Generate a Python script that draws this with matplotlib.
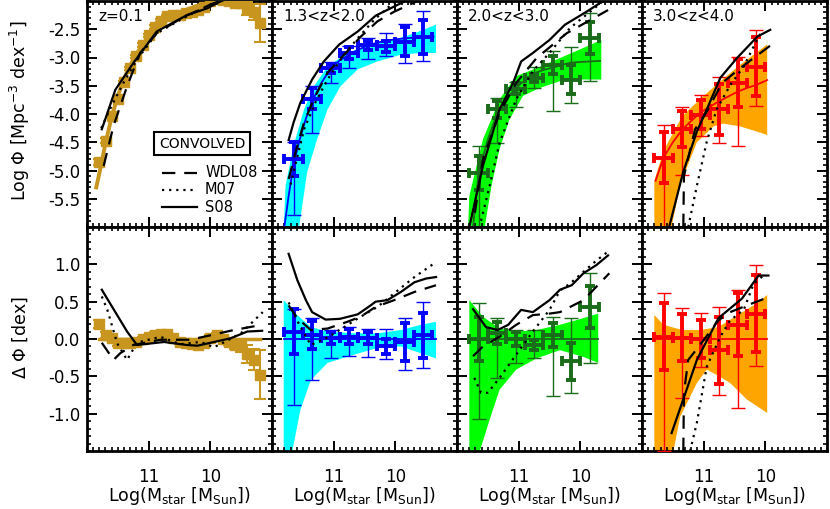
import numpy as np
import matplotlib
matplotlib.use("Agg")
import matplotlib.pyplot as plt
from matplotlib.ticker import FixedLocator, MultipleLocator, FormatStrFormatter

plt.rcParams['font.family'] = ['DejaVu Sans']
plt.rcParams['mathtext.fontset'] = 'dejavusans'

# ---------------- data ----------------
panel_labels = ["z=0.1", "1.3<z<2.0", "2.0<z<3.0", "3.0<z<4.0"]
model_names = ["WDL08", "M07", "S08"]

# Panel 1 (z=0.1)
p1_x = [11.8, 11.7, 11.6, 11.5, 11.4, 11.3, 11.2, 11.1, 11.0, 10.9, 10.8, 10.7, 10.6, 10.5,
        10.4, 10.3, 10.2, 10.1, 10.0, 9.9, 9.8, 9.7, 9.6, 9.5, 9.4, 9.3, 9.2]
p1_phi = [-4.85, -4.47, -4.03, -3.74, -3.44, -3.19, -2.98, -2.78, -2.61, -2.46, -2.35, -2.27, -2.25, -2.25,
          -2.22, -2.19, -2.16, -2.10, -2.00, -1.95, -1.98, -2.00, -2.03, -2.04, -2.13, -2.20, -2.39]
p1_dphi = [0.20, 0.05, 0.02, -0.06, -0.06, -0.05, -0.04, 0.00, 0.03, 0.06, 0.07, 0.07, 0.02, -0.04,
           -0.06, -0.07, -0.08, -0.05, 0.02, 0.05, 0.00, -0.04, -0.08, -0.10, -0.20, -0.28, -0.48]
p1_err = [0.05, 0.04, 0.03, 0.03, 0.03, 0.03, 0.03, 0.03, 0.03, 0.03, 0.03, 0.03, 0.03, 0.03,
          0.03, 0.03, 0.03, 0.03, 0.03, 0.03, 0.03, 0.04, 0.06, 0.08, 0.12, 0.14, 0.33]
p1_fit_x = [11.85, 11.8, 11.7, 11.6, 11.5, 11.4, 11.3, 11.2, 11.1, 11.0, 10.9, 10.8, 10.7, 10.6,
            10.4, 10.2, 10.0, 9.8, 9.6, 9.4, 9.2]
p1_fit_y = [-5.30, -5.05, -4.52, -4.05, -3.68, -3.38, -3.14, -2.94, -2.78, -2.64, -2.52, -2.42, -2.34, -2.27,
            -2.16, -2.08, -2.02, -1.98, -1.95, -1.93, -1.91]
p1_wdl_x = [11.73, 11.57, 11.35, 11.14, 10.87, 10.43, 9.95, 9.7]
p1_wdl_y = [-4.92, -4.21, -3.51, -2.92, -2.57, -2.28, -2.04, -1.95]
p1_m07_x = [11.77, 11.63, 11.41, 11.19, 10.87, 10.43, 9.89, 9.6]
p1_m07_y = [-4.25, -3.92, -3.45, -3.04, -2.57, -2.30, -2.00, -1.90]
p1_s08_x = [11.76, 11.54, 11.25, 10.87, 10.38, 10.05, 9.84, 9.6]
p1_s08_y = [-4.27, -3.57, -3.10, -2.54, -2.25, -2.13, -2.01, -1.90]
p1_dwdl_x = [11.76, 11.57, 11.46, 11.25, 10.81, 10.33, 10.05, 9.62, 9.16]
p1_dwdl_y = [-0.05, -0.28, -0.19, -0.08, -0.01, -0.01, 0.04, 0.12, 0.19]
p1_dm07_x = [11.76, 11.67, 11.51, 11.35, 11.19, 10.81, 10.49, 10.16, 9.94, 9.72, 9.50, 9.15]
p1_dm07_y = [0.57, 0.39, -0.06, -0.28, -0.05, 0.03, -0.07, -0.04, -0.11, -0.02, 0.08, 0.36]
p1_ds08_x = [11.76, 11.35, 11.19, 10.75, 10.38, 10.21, 9.67, 9.40, 9.16]
p1_ds08_y = [0.66, 0.10, -0.08, -0.04, -0.08, -0.09, 0.01, 0.10, 0.11]

# Panel 2 (1.3<z<2.0)
p2_x = [11.65, 11.35, 11.05, 10.75, 10.45, 10.15, 9.85, 9.55]
p2_phi = [-4.79, -3.73, -3.19, -2.92, -2.78, -2.80, -2.72, -2.63]
p2_dphi = [0.10, 0.05, 0.01, 0.03, 0.01, -0.10, -0.04, 0.05]
p2_err = [0.30, 0.19, 0.08, 0.10, 0.08, 0.10, 0.26, 0.30]
p2_lo = [0.99, 0.60, 0.27, 0.26, 0.25, 0.17, 0.37, 0.44]
p2_hi = [0.30, 0.23, 0.11, 0.13, 0.13, 0.24, 0.32, 0.45]
p2_fit_x = [11.80, 11.73, 11.65, 11.55, 11.45, 11.35, 11.2, 11.05, 10.9, 10.75, 10.6, 10.45,
            10.3, 10.15, 10.0, 9.85, 9.7, 9.55, 9.38]
p2_fit_y = [-6.0, -5.45, -4.89, -4.45, -4.08, -3.78, -3.45, -3.20, -3.05, -2.95, -2.86, -2.79,
            -2.74, -2.70, -2.68, -2.66, -2.65, -2.64, -2.63]
p2_band_up_x = [11.81, 11.78, 11.65, 11.48, 11.32, 11.10, 10.78, 10.40, 10.02, 9.69, 9.34]
p2_band_up_y = [-6.0, -5.27, -4.56, -3.92, -3.51, -3.16, -2.92, -2.77, -2.69, -2.57, -2.42]
p2_band_lo_x = [11.56, 11.43, 11.27, 11.10, 10.89, 10.61, 10.29, 9.91, 9.59, 9.34]
p2_band_lo_y = [-6.0, -5.03, -4.45, -3.92, -3.51, -3.21, -3.07, -2.95, -2.92, -2.92]
p2_wdl_x = [11.73, 11.59, 11.48, 11.32, 11.10, 10.83, 10.56, 10.29, 10.02, 9.64]
p2_wdl_y = [-5.15, -4.56, -4.15, -3.73, -3.27, -2.95, -2.63, -2.36, -2.19, -2.0]
p2_m07_x = [11.70, 11.48, 11.29, 11.10, 10.86, 10.61, 10.34, 10.02]
p2_m07_y = [-5.25, -4.27, -3.78, -3.39, -2.99, -2.66, -2.33, -2.02]
p2_s08_x = [11.73, 11.65, 11.54, 11.35, 11.16, 10.91, 10.61, 10.32, 9.80]
p2_s08_y = [-4.46, -4.15, -3.80, -3.39, -3.07, -2.77, -2.54, -2.26, -1.98]
p2_dband_up_x = [11.81, 11.59, 11.37, 11.10, 10.67, 10.29, 9.91, 9.59, 9.34]
p2_dband_up_y = [0.52, 0.32, 0.16, 0.10, 0.076, 0.076, 0.12, 0.19, 0.23]
p2_dband_lo_x = [11.81, 11.67, 11.54, 11.37, 11.10, 10.67, 10.29, 9.91, 9.59, 9.34]
p2_dband_lo_y = [-1.5, -1.5, -0.95, -0.55, -0.32, -0.21, -0.12, -0.10, -0.19, -0.26]
p2_dwdl_x = [11.73, 11.59, 11.37, 11.10, 10.78, 10.56, 10.32, 10.02, 9.69, 9.34]
p2_dwdl_y = [0.45, 0.28, 0.12, 0.14, 0.23, 0.30, 0.43, 0.52, 0.63, 0.72]
p2_dm07_x = [11.73, 11.54, 11.37, 11.10, 10.83, 10.56, 10.29, 10.02, 9.69, 9.34]
p2_dm07_y = [0.49, 0.16, -0.08, 0.02, 0.16, 0.30, 0.43, 0.61, 0.83, 1.03]
p2_ds08_x = [11.73, 11.59, 11.45, 11.35, 11.13, 10.9, 10.61, 10.40, 10.32, 10.13, 9.91, 9.69, 9.50, 9.34]
p2_ds08_y = [1.14, 0.79, 0.52, 0.36, 0.26, 0.27, 0.33, 0.45, 0.50, 0.52, 0.63, 0.76, 0.81, 0.83]

# Panel 3 (2.0<z<3.0)
p3_x = [11.65, 11.35, 11.05, 10.75, 10.45, 10.15, 9.85]
p3_phi = [-5.05, -3.92, -3.55, -3.36, -3.13, -3.39, -2.66]
p3_dphi = [0.00, 0.08, 0.00, -0.08, 0.05, -0.30, 0.43]
p3_err = [0.30, 0.15, 0.10, 0.07, 0.16, 0.25, 0.28]
p3_lo = [1.07, 0.60, 0.32, 0.18, 0.82, 0.42, 0.75]
p3_hi = [0.48, 0.20, 0.12, 0.20, 0.25, 0.58, 0.45]
p3_fit_x = [11.74, 11.65, 11.50, 11.35, 11.20, 11.05, 10.90, 10.75, 10.60, 10.45, 10.30, 10.15, 10.0, 9.85, 9.68]
p3_fit_y = [-6.0, -5.05, -4.45, -4.00, -3.73, -3.55, -3.40, -3.28, -3.22, -3.18, -3.13, -3.09, -3.08, -3.07, -3.06]
p3_band_up_x = [11.82, 11.80, 11.58, 11.31, 11.04, 10.71, 10.33, 9.95, 9.66]
p3_band_up_y = [-6.0, -5.45, -4.45, -3.74, -3.33, -3.19, -3.01, -2.83, -2.69]
p3_band_lo_x = [11.55, 11.44, 11.31, 11.15, 10.93, 10.66, 10.33, 9.95, 9.66]
p3_band_lo_y = [-6.0, -5.27, -4.62, -4.10, -3.68, -3.54, -3.42, -3.39, -3.39]
p3_wdl_x = [11.71, 11.58, 11.31, 11.04, 10.71, 10.22, 9.55]
p3_wdl_y = [-5.75, -4.80, -3.98, -3.45, -3.01, -2.57, -2.16]
p3_m07_x = [11.61, 11.47, 11.31, 11.04, 10.77, 10.50, 10.17, 9.74, 9.63]
p3_m07_y = [-5.89, -5.27, -4.51, -3.74, -3.24, -2.92, -2.48, -2.10, -2.0]
p3_s08_x = [11.80, 11.58, 11.31, 11.09, 10.96, 10.77, 10.50, 10.25, 9.90, 9.63]
p3_s08_y = [-6.0, -4.92, -3.92, -3.45, -3.07, -2.92, -2.69, -2.42, -2.19, -2.0]
p3_dband_up_x = [11.80, 11.58, 11.31, 11.04, 10.71, 10.33, 9.95, 9.71]
p3_dband_up_y = [0.52, 0.30, 0.14, 0.10, 0.12, 0.19, 0.28, 0.34]
p3_dband_lo_x = [11.80, 11.63, 11.47, 11.31, 11.04, 10.71, 10.33, 9.95, 9.71]
p3_dband_lo_y = [-1.5, -1.5, -1.08, -0.68, -0.41, -0.26, -0.15, -0.24, -0.32]
p3_dwdl_x = [11.74, 11.58, 11.31, 11.04, 10.77, 10.50, 10.33, 9.95, 9.74, 9.53]
p3_dwdl_y = [-0.23, -0.10, 0.03, 0.19, 0.32, 0.34, 0.36, 0.52, 0.70, 0.88]
p3_dm07_x = [11.72, 11.61, 11.50, 11.31, 11.04, 10.77, 10.50, 10.33, 10.17, 9.95, 9.74, 9.52]
p3_dm07_y = [-0.52, -0.72, -0.72, -0.52, -0.21, 0.10, 0.39, 0.65, 0.74, 0.90, 1.05, 1.19]
p3_ds08_x = [11.74, 11.53, 11.34, 11.17, 10.96, 10.77, 10.50, 10.33, 10.14, 9.95, 9.74, 9.55]
p3_ds08_y = [0.40, 0.16, 0.12, 0.19, 0.39, 0.36, 0.52, 0.66, 0.72, 0.88, 0.99, 1.12]

# Panel 4 (3.0<z<4.0)
p4_x = [11.65, 11.35, 11.05, 10.75, 10.45, 10.15]
p4_phi = [-4.77, -4.27, -4.01, -3.92, -3.45, -3.16]
p4_dphi = [0.03, 0.02, 0.00, -0.15, 0.19, 0.34]
p4_err = [0.45, 0.32, 0.25, 0.45, 0.42, 0.52]
p4_lo = [1.53, 0.81, 0.38, 0.60, 1.11, 0.70]
p4_hi = [0.58, 0.40, 0.35, 0.58, 0.46, 0.65]
p4_fit_x = [11.78, 11.65, 11.50, 11.35, 11.20, 11.06, 10.90, 10.76, 10.60, 10.46, 10.30, 10.16, 9.97]
p4_fit_y = [-5.18, -4.77, -4.50, -4.28, -4.12, -3.98, -3.87, -3.78, -3.69, -3.61, -3.54, -3.49, -3.40]
p4_band_up_x = [11.80, 11.65, 11.35, 11.06, 10.76, 10.41, 9.97]
p4_band_up_y = [-5.18, -4.65, -4.04, -3.74, -3.45, -3.13, -2.77]
p4_band_lo_x = [11.80, 11.52, 11.38, 11.11, 10.84, 10.68, 10.41, 10.14, 9.97]
p4_band_lo_y = [-6.0, -6.0, -5.25, -4.50, -4.22, -4.17, -4.22, -4.31, -4.37]
p4_wdl_x = [11.33, 11.32, 11.14, 10.95, 10.70, 10.41, 10.19, 9.92]
p4_wdl_y = [-6.0, -5.10, -4.27, -3.96, -3.45, -3.19, -3.01, -2.79]
p4_m07_x = [11.25, 11.11, 10.95, 10.79, 10.57, 10.35, 10.16, 10.05]
p4_m07_y = [-6.0, -5.27, -4.49, -3.92, -3.49, -3.16, -2.74, -2.52]
p4_s08_x = [11.56, 11.33, 11.11, 10.95, 10.73, 10.46, 10.13, 9.92]
p4_s08_y = [-6.0, -5.02, -4.31, -3.92, -3.36, -3.01, -2.63, -2.51]
p4_dband_up_x = [11.80, 11.65, 11.35, 11.06, 10.76, 10.41, 10.13, 9.97]
p4_dband_up_y = [0.32, 0.19, 0.12, 0.12, 0.16, 0.34, 0.48, 0.59]
p4_dband_lo_x = [11.80, 11.49, 11.38, 11.11, 10.95, 10.79, 10.57, 10.30, 9.97]
p4_dband_lo_y = [-1.5, -1.5, -1.04, -0.59, -0.41, -0.48, -0.59, -0.81, -0.99]
p4_dwdl_x = [11.33, 11.32, 11.25, 11.06, 10.76, 10.57, 10.30, 9.95]
p4_dwdl_y = [-1.5, -0.72, -0.28, -0.08, 0.25, 0.36, 0.45, 0.56]
p4_dm07_x = [11.22, 11.11, 10.95, 10.73, 10.57, 10.35, 10.19, 10.03]
p4_dm07_y = [-1.5, -1.12, -0.37, 0.03, 0.25, 0.39, 0.74, 0.85]
p4_ds08_x = [11.52, 11.11, 10.76, 10.38, 10.11, 9.95]
p4_ds08_y = [-1.26, -0.28, 0.28, 0.54, 0.85, 0.85]

bin_half = 0.15
data_colors = ['#C8961E', '#0000FF', '#1A6B1A', '#FF0000']
band_colors = [None, '#00FFFF', '#00FF00', '#FFA500']

# ---------------- figure ----------------
W, H = 830, 509
fig = plt.figure(figsize=(W / 100, H / 100), dpi=100)

lefts = [87, 272, 457, 642]
pw = 185
top_row = (1, 227)
bot_row = (227, 451)

dash = (0, (6, 4))
dot = (0, (1, 2.2))
mstyle = [dash, dot, '-']


def make_ax(px, row):
    y0, y1 = row
    return fig.add_axes([px / W, 1 - y1 / H, pw / W, (y1 - y0) / H])


def style_ax(ax, ylim, yticks, show_y, show_x):
    ax.set_xlim(12, 9)
    ax.set_ylim(*ylim)
    ax.xaxis.set_major_locator(FixedLocator([11, 10]))
    ax.xaxis.set_minor_locator(MultipleLocator(0.1))
    ax.yaxis.set_major_locator(FixedLocator(yticks))
    ax.yaxis.set_minor_locator(MultipleLocator(0.1))
    ax.yaxis.set_major_formatter(FormatStrFormatter('%.1f'))
    ax.xaxis.set_major_formatter(FormatStrFormatter('%d'))
    ax.tick_params(which='both', direction='in', top=True, right=True)
    ax.tick_params(which='major', length=7, width=1.4)
    ax.tick_params(which='minor', length=3, width=1.2)
    ax.tick_params(axis='y', labelsize=12, pad=5, labelleft=show_y)
    ax.tick_params(axis='x', labelsize=12, pad=12, labelbottom=show_x)
    for s in ax.spines.values():
        s.set_linewidth(2)


def draw_band(ax, ux, uy, lx, ly, color):
    ax.fill(list(ux) + list(lx)[::-1], list(uy) + list(ly)[::-1],
            color=color, lw=0, zorder=1)


def draw_cross(ax, x, y, err, lo, hi, color):
    ax.errorbar(x, y, yerr=[lo, hi], fmt='none', ecolor=color, elinewidth=1.0,
                capsize=5, capthick=1.0, zorder=4)
    ax.errorbar(x, y, xerr=bin_half, yerr=err, fmt='none', ecolor=color, elinewidth=2.8,
                capsize=3.5, capthick=2.8, zorder=4)


def draw_models(ax, xs, ys):
    for mx, my, ls in zip(xs, ys, mstyle):
        ax.plot(mx, my, color='black', lw=1.6, linestyle=ls, zorder=6)


panels = [
    dict(x=p1_x, phi=p1_phi, dphi=p1_dphi, err=p1_err,
         fx=p1_fit_x, fy=p1_fit_y,
         mx=[p1_wdl_x, p1_m07_x, p1_s08_x], my=[p1_wdl_y, p1_m07_y, p1_s08_y],
         dmx=[p1_dwdl_x, p1_dm07_x, p1_ds08_x], dmy=[p1_dwdl_y, p1_dm07_y, p1_ds08_y]),
    dict(x=p2_x, phi=p2_phi, dphi=p2_dphi, err=p2_err, lo=p2_lo, hi=p2_hi,
         fx=p2_fit_x, fy=p2_fit_y,
         bux=p2_band_up_x, buy=p2_band_up_y, blx=p2_band_lo_x, bly=p2_band_lo_y,
         dbux=p2_dband_up_x, dbuy=p2_dband_up_y, dblx=p2_dband_lo_x, dbly=p2_dband_lo_y,
         mx=[p2_wdl_x, p2_m07_x, p2_s08_x], my=[p2_wdl_y, p2_m07_y, p2_s08_y],
         dmx=[p2_dwdl_x, p2_dm07_x, p2_ds08_x], dmy=[p2_dwdl_y, p2_dm07_y, p2_ds08_y]),
    dict(x=p3_x, phi=p3_phi, dphi=p3_dphi, err=p3_err, lo=p3_lo, hi=p3_hi,
         fx=p3_fit_x, fy=p3_fit_y,
         bux=p3_band_up_x, buy=p3_band_up_y, blx=p3_band_lo_x, bly=p3_band_lo_y,
         dbux=p3_dband_up_x, dbuy=p3_dband_up_y, dblx=p3_dband_lo_x, dbly=p3_dband_lo_y,
         mx=[p3_wdl_x, p3_m07_x, p3_s08_x], my=[p3_wdl_y, p3_m07_y, p3_s08_y],
         dmx=[p3_dwdl_x, p3_dm07_x, p3_ds08_x], dmy=[p3_dwdl_y, p3_dm07_y, p3_ds08_y]),
    dict(x=p4_x, phi=p4_phi, dphi=p4_dphi, err=p4_err, lo=p4_lo, hi=p4_hi,
         fx=p4_fit_x, fy=p4_fit_y,
         bux=p4_band_up_x, buy=p4_band_up_y, blx=p4_band_lo_x, bly=p4_band_lo_y,
         dbux=p4_dband_up_x, dbuy=p4_dband_up_y, dblx=p4_dband_lo_x, dbly=p4_dband_lo_y,
         mx=[p4_wdl_x, p4_m07_x, p4_s08_x], my=[p4_wdl_y, p4_m07_y, p4_s08_y],
         dmx=[p4_dwdl_x, p4_dm07_x, p4_ds08_x], dmy=[p4_dwdl_y, p4_dm07_y, p4_ds08_y]),
]

for i, (px, P) in enumerate(zip(lefts, panels)):
    c = data_colors[i]
    axt = make_ax(px, top_row)
    axb = make_ax(px, bot_row)
    style_ax(axt, (-6.0, -2.0), [-5.5, -5.0, -4.5, -4.0, -3.5, -3.0, -2.5], i == 0, False)
    style_ax(axb, (-1.5, 1.5), [-1.0, -0.5, 0.0, 0.5, 1.0], i == 0, True)

    if i == 0:
        axt.plot(P['fx'], P['fy'], color=c, lw=2.8, zorder=2)
        axt.errorbar(P['x'], P['phi'], yerr=P['err'], fmt='s', color=c, ms=6.5,
                     mec=c, elinewidth=1.5, capsize=4, capthick=1.5, zorder=4)
        axb.plot([P['x'][0], P['x'][-1]], [0, 0], color=c, lw=2.5, zorder=2)
        axb.errorbar(P['x'], P['dphi'], yerr=P['err'], fmt='s', color=c, ms=6.5,
                     mec=c, elinewidth=1.5, capsize=4, capthick=1.5, zorder=4)
    else:
        draw_band(axt, P['bux'], P['buy'], P['blx'], P['bly'], band_colors[i])
        axt.plot(P['fx'], P['fy'], color=c, lw=1.3, zorder=3)
        draw_cross(axt, P['x'], P['phi'], P['err'], P['lo'], P['hi'], c)
        draw_band(axb, P['dbux'], P['dbuy'], P['dblx'], P['dbly'], band_colors[i])
        axb.plot([P['dbux'][0], P['dbux'][-1]], [0, 0], color=c, lw=1.3, zorder=3)
        draw_cross(axb, P['x'], P['dphi'], P['err'], P['lo'], P['hi'], c)

    draw_models(axt, P['mx'], P['my'])
    draw_models(axb, P['dmx'], P['dmy'])

    axt.text(0.06, 0.932, panel_labels[i], transform=axt.transAxes, fontsize=11,
             ha='left', va='center', zorder=10)
    fig.text((px + pw / 2) / W, 1 - 496 / H, r'Log(M$_{\mathrm{star}}$ [M$_{\mathrm{Sun}}$])',
             ha='center', va='center', fontsize=12.5)

    if i == 0:
        axt.text(0.624, 0.369, 'CONVOLVED', transform=axt.transAxes, fontsize=10,
                 ha='center', va='center', zorder=10,
                 bbox=dict(boxstyle='square,pad=0.35', fc='white', ec='black', lw=1.5))
        for k, (name, ls) in enumerate(zip(model_names, mstyle)):
            yy = [0.239, 0.164, 0.088][k]
            axt.plot([0.405, 0.595], [yy, yy], transform=axt.transAxes, color='black',
                     lw=1.6, linestyle=ls, zorder=10)
            axt.text(0.638, yy, name, transform=axt.transAxes, fontsize=10.5,
                     ha='left', va='center', zorder=10)

fig.text(20 / W, 1 - 111 / H, r'Log $\Phi$ [Mpc$^{-3}$ dex$^{-1}$]', rotation=90,
         ha='center', va='center', fontsize=12.5)
fig.text(20 / W, 1 - 338 / H, r'$\Delta$ $\Phi$ [dex]', rotation=90,
         ha='center', va='center', fontsize=12.5)

fig.savefig('out.png', dpi=100)
